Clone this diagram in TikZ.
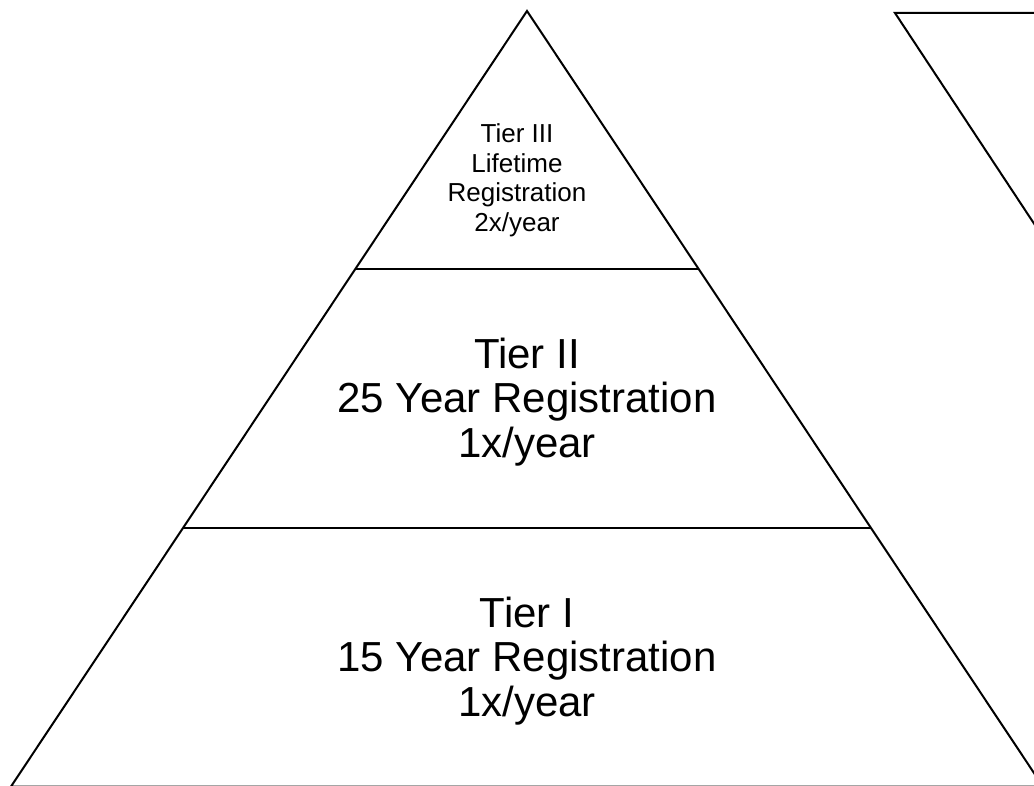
\documentclass[tikz,border=0pt]{standalone}
\usepackage{fontspec}
\setmainfont{Liberation Sans}
\usetikzlibrary{calc}

\begin{document}
\begin{tikzpicture}[
  x=1pt,y=-1pt,
  every node/.style={align=center,inner sep=0pt},
  tierLine/.style={draw,line width=2pt,line join=miter},
  bigLabel/.style={font=\fontsize{42}{44.5}\selectfont},
  smallLabel/.style={font=\fontsize{26}{29.5}\selectfont}]

  \useasboundingbox (0,0) rectangle (1034,786);
  \clip (0,0) rectangle (1034,786);

  % outline of the pyramid
  \coordinate (apex) at (527,11);
  \coordinate (baseL) at (11,786.5);
  \coordinate (baseR) at (1043,786.5);
  \draw [tierLine] (apex) -- (baseL) -- (baseR) -- cycle;

  % tier dividers
  \draw [tierLine] ($(apex)!0.3327!(baseL)$) -- ($(apex)!0.3327!(baseR)$);
  \draw [tierLine] ($(apex)!0.6667!(baseL)$) -- ($(apex)!0.6667!(baseR)$);

  % second shape, cut off by the page edge
  \coordinate (invTop) at (895,13);
  \draw [tierLine] (1200,13) -- (invTop) -- ($(invTop)+(200,303)$);

  % tier labels
  \node[smallLabel] (tierThree) at (517,180.5) {Tier III\\Lifetime\\Registration\\2x/year};
  \node[bigLabel] (tierTwo) at (527,402) {Tier II\\25 Year Registration\\1x/year};
  \node[bigLabel] (tierOne) at (527,661) {Tier I\\15 Year Registration\\1x/year};
\end{tikzpicture}
\end{document}
